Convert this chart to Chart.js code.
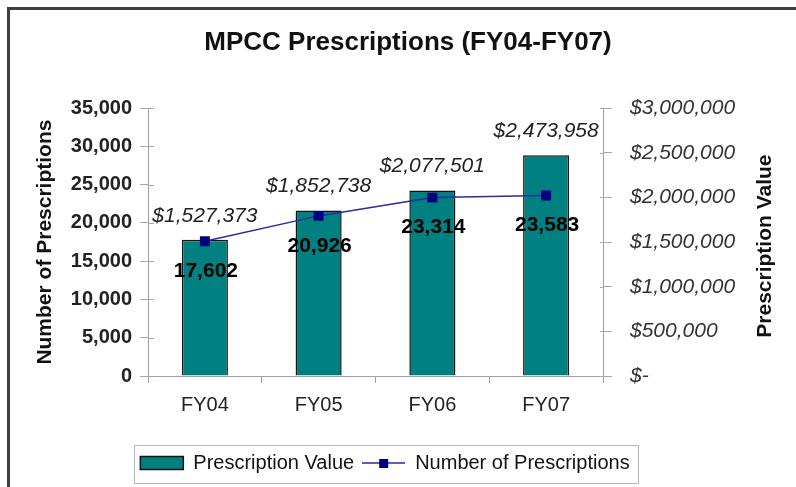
<!DOCTYPE html>
<html>
<head>
<meta charset="utf-8">
<script src="https://cdn.jsdelivr.net/npm/chart.js@4.4.1/dist/chart.umd.min.js"></script>
<style>
  html, body { margin: 0; padding: 0; background: #fff; }
  #wrap { position: relative; width: 796px; height: 487px; }
  #frame { position: absolute; left: 7px; top: 7px; width: 789px; height: 480px;
           border-top: 3px solid #3e3e3e; border-left: 3px solid #3e3e3e; box-sizing: border-box; pointer-events: none; }
  canvas { display: block; }
</style>
</head>
<body>
<div id="wrap">
  <canvas id="c" width="796" height="487"></canvas>
  <div id="frame"></div>
</div>
<script>
const categories = ['FY04', 'FY05', 'FY06', 'FY07'];
const prescriptionValue = [1527373, 1852738, 2077501, 2473958];
const numberOfPrescriptions = [17602, 20926, 23314, 23583];
const leftAxis = { min: 0, max: 35000, step: 5000 };
const rightAxis = { min: 0, max: 3000000, step: 500000 };

const FONT = "'Liberation Sans', Arial, sans-serif";
const fmtNum = v => Number(v).toLocaleString('en-US');
const fmtMoney = v => v === 0 ? '$-' : '$' + Number(v).toLocaleString('en-US');

// legend icon for the line series
const lineIcon = document.createElement('canvas');
lineIcon.width = 43; lineIcon.height = 14;
(function () {
  const g = lineIcon.getContext('2d');
  g.strokeStyle = '#2a2aa6'; g.lineWidth = 1.5;
  g.beginPath(); g.moveTo(0, 7); g.lineTo(43, 7); g.stroke();
  g.fillStyle = '#000080'; g.fillRect(17, 3, 9, 9);
})();

const bgPlugin = {
  id: 'bg',
  beforeDraw(chart) {
    const ctx = chart.ctx;
    ctx.save(); ctx.fillStyle = '#fff'; ctx.fillRect(0, 0, chart.width, chart.height); ctx.restore();
  }
};

const shiftPlugin = {
  id: 'shiftLegend',
  afterLayout(chart) {
    const lg = chart.legend;
    const dx = 385 - (lg.left + lg.right) / 2;
    lg.left += dx; lg.right += dx;
  }
};

const decoPlugin = {
  id: 'deco',
  beforeDatasetsDraw(chart) {
    // inner halves of the crossing tick marks
    const ctx = chart.ctx;
    ctx.save();
    ctx.strokeStyle = '#a8a8a8'; ctx.lineWidth = 1;
    const y = chart.scales.y, y1 = chart.scales.y1;
    y.ticks.forEach((t, i) => {
      const py = Math.round(y.getPixelForTick(i)) + 0.5;
      ctx.beginPath(); ctx.moveTo(y.right, py); ctx.lineTo(y.right + 6, py); ctx.stroke();
    });
    y1.ticks.forEach((t, i) => {
      const py = Math.round(y1.getPixelForTick(i)) + 0.5;
      ctx.beginPath(); ctx.moveTo(y1.left - 3, py); ctx.lineTo(y1.left, py); ctx.stroke();
    });
    ctx.restore();
  },
  afterDatasetsDraw(chart) {
    const ctx = chart.ctx;
    ctx.save();
    ctx.textAlign = 'center'; ctx.textBaseline = 'middle';
    const barMeta = chart.getDatasetMeta(0);
    ctx.font = 'italic 21px ' + FONT; ctx.fillStyle = '#222';
    barMeta.data.forEach((el, i) => ctx.fillText(fmtMoney(prescriptionValue[i]), el.x, el.y - 24));
    const lineMeta = chart.getDatasetMeta(1);
    ctx.font = 'bold 21px ' + FONT; ctx.fillStyle = '#000';
    lineMeta.data.forEach((el, i) => ctx.fillText(fmtNum(numberOfPrescriptions[i]), el.x + 1, el.y + 30));
    ctx.restore();
  },
  afterDraw(chart) {
    const ctx = chart.ctx;
    ctx.save();
    // right axis title (reads bottom-to-top)
    const s = chart.scales.y1;
    ctx.translate(s.right - 23, (chart.chartArea.top + chart.chartArea.bottom) / 2 + 4);
    ctx.rotate(-Math.PI / 2);
    ctx.font = 'bold 21px ' + FONT; ctx.fillStyle = '#111';
    ctx.textAlign = 'center'; ctx.textBaseline = 'middle';
    ctx.fillText('Prescription Value', 0, 0);
    ctx.restore();
    // legend border
    const hb = chart.legend.legendHitBoxes;
    if (hb && hb.length) {
      const l = Math.min(...hb.map(h => h.left)) - 6;
      const r = Math.max(...hb.map(h => h.left + h.width)) + 9;
      const t = hb[0].top - 8;
      const b = hb[0].top + hb[0].height + 10;
      ctx.save();
      ctx.strokeStyle = '#b8b8b8'; ctx.lineWidth = 1;
      ctx.strokeRect(Math.round(l) + 0.5, Math.round(t) + 0.5, Math.round(r - l), Math.round(b - t));
      ctx.restore();
    }
  }
};

new Chart(document.getElementById('c'), {
  data: {
    labels: categories,
    datasets: [
      {
        type: 'bar',
        label: 'Prescription Value',
        data: prescriptionValue,
        yAxisID: 'y1',
        backgroundColor: '#008080',
        borderColor: '#111',
        borderWidth: 1.5,
        categoryPercentage: 1,
        barPercentage: 0.405,
        order: 2
      },
      {
        type: 'line',
        label: 'Number of Prescriptions',
        data: numberOfPrescriptions,
        yAxisID: 'y',
        borderColor: '#2a2aa6',
        borderWidth: 1.5,
        backgroundColor: '#000080',
        pointStyle: 'rect',
        pointRadius: 7,
        pointBackgroundColor: '#000080',
        pointBorderColor: '#000080',
        pointBorderWidth: 0,
        tension: 0,
        order: 1
      }
    ]
  },
  options: {
    responsive: false,
    devicePixelRatio: 1,
    animation: false,
    layout: { padding: { left: 28, right: 8, top: 10, bottom: 4 } },
    plugins: {
      tooltip: { enabled: false },
      title: {
        display: true,
        text: 'MPCC Prescriptions (FY04-FY07)',
        color: '#111',
        font: { family: FONT, size: 26, weight: 'bold' },
        padding: { top: 17, bottom: 50 }
      },
      legend: {
        position: 'bottom',
        labels: {
          color: '#111',
          font: { family: FONT, size: 20 },
          usePointStyle: true,
          pointStyleWidth: 43,
          boxHeight: 13,
          padding: 8,
          sort: (a, b) => a.datasetIndex - b.datasetIndex,
          generateLabels(chart) {
            const items = Chart.defaults.plugins.legend.labels.generateLabels(chart);
            items.forEach(it => {
              if (it.datasetIndex === 1) {
                it.pointStyle = lineIcon;
              } else {
                it.pointStyle = 'rect';
                it.fillStyle = '#008080';
                it.strokeStyle = '#111';
                it.lineWidth = 1.5;
              }
            });
            return items;
          }
        }
      }
    },
    scales: {
      x: {
        type: 'category',
        offset: true,
        grid: { display: true, offset: true, drawOnChartArea: false, drawTicks: true, tickLength: 7, color: '#a0a0a0' },
        border: { display: true, color: '#a0a0a0', width: 1 },
        ticks: { color: '#222', font: { family: FONT, size: 20 }, padding: 10 },
        afterFit(s) { s.height = 69; }
      },
      y: {
        position: 'left',
        min: leftAxis.min, max: leftAxis.max,
        ticks: { stepSize: leftAxis.step, color: '#222', padding: 8,
                 font: { family: FONT, size: 20, weight: 'bold' },
                 callback: v => fmtNum(v) },
        grid: { display: true, drawOnChartArea: false, tickLength: 8, color: '#a8a8a8' },
        border: { display: true, color: '#a0a0a0' },
        title: { display: true, text: 'Number of Prescriptions', color: '#111',
                 font: { family: FONT, size: 21, weight: 'bold' }, padding: { top: 5, bottom: 0 } },
        afterFit(s) { s.width = 120; }
      },
      y1: {
        position: 'right',
        min: rightAxis.min, max: rightAxis.max,
        ticks: { stepSize: rightAxis.step, color: '#333', padding: 18,
                 font: { family: FONT, size: 21, style: 'italic' },
                 callback: v => fmtMoney(v) },
        grid: { display: true, drawOnChartArea: false, tickLength: 9, color: '#a8a8a8' },
        border: { display: true, color: '#a0a0a0' },
        afterFit(s) { s.width = 185; }
      }
    }
  },
  plugins: [bgPlugin, shiftPlugin, decoPlugin]
});
</script>
</body>
</html>
